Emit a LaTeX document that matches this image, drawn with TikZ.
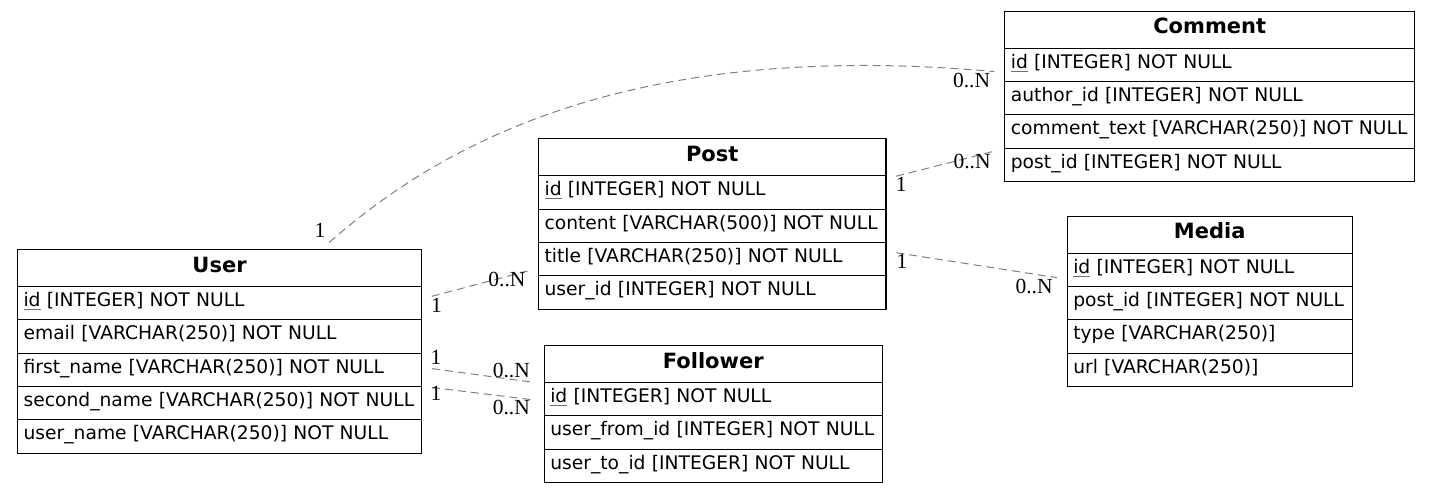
\documentclass[tikz,border=0pt]{standalone}
\usepackage{fontspec}
\setmainfont{DejaVu Sans}
\newfontfamily\lblfont{Liberation Serif}
\usetikzlibrary{calc}

\definecolor{edgegray}{HTML}{808080}
\definecolor{keyline}{HTML}{707070}

% primary key: underlined column name
\newcommand\pkey[1]{\setbox0=\hbox{#1}\rlap{\textcolor{keyline}{\rule[-3.5pt]{\wd0}{1.1pt}}}#1}

\tikzset{
  tblcell/.style={draw=black, line width=1.1pt, rectangle, anchor=north west,
    inner xsep=6pt, inner ysep=0pt},
  tblhead/.style={tblcell, minimum height=37pt, align=center,
    font=\fontsize{21}{21}\selectfont\bfseries, text height=14pt, text depth=5.8pt},
  tblrow/.style={tblcell, minimum height=33.3pt, align=left,
    font=\fontsize{18.7}{18.7}\selectfont, text height=12.5pt, text depth=5.8pt},
  rel/.style={draw=edgegray, line width=1pt, dash pattern=on 8pt off 5pt,
    shorten <=10pt, shorten >=10pt},
  card/.style={font=\lblfont\fontsize{21.5}{21.5}\selectfont, inner sep=0pt, text=black}
}

% table header and table row at a given top-left corner and width
\newcommand\erhead[5]{\pgfmathsetmacro\erw{#4-12}%
  \node[tblhead, minimum width=#4pt, text width=\erw pt] (#1) at (#2,#3) {#5};}
\newcommand\errow[5]{\pgfmathsetmacro\erw{#4-12}%
  \node[tblrow, minimum width=#4pt, text width=\erw pt] (#1) at (#2,#3) {#5};}

\begin{document}
\begin{tikzpicture}[x=1pt, y=-1pt]
\useasboundingbox (0,0) rectangle (1429,493);

% User
\erhead{user}{17}{249}{404}{User}
\errow{user1}{17}{286}{404}{\pkey{id} [INTEGER] NOT NULL}
\errow{user2}{17}{319.3}{404}{email [VARCHAR(250)] NOT NULL}
\errow{user3}{17}{352.6}{404}{first\_name [VARCHAR(250)] NOT NULL}
\errow{user4}{17}{385.9}{404}{second\_name [VARCHAR(250)] NOT NULL}
\errow{user5}{17}{419.2}{404}{user\_name [VARCHAR(250)] NOT NULL}

% Post
\erhead{post}{538}{138.3}{347.4}{Post}
\errow{post1}{538}{175.3}{347.4}{\pkey{id} [INTEGER] NOT NULL}
\errow{post2}{538}{208.6}{347.4}{content [VARCHAR(500)] NOT NULL}
\errow{post3}{538}{241.9}{347.4}{title [VARCHAR(250)] NOT NULL}
\errow{post4}{538}{275.2}{347.4}{user\_id [INTEGER] NOT NULL}

% Follower
\erhead{follower}{543.7}{345}{338}{Follower}
\errow{follower1}{543.7}{382}{338}{\pkey{id} [INTEGER] NOT NULL}
\errow{follower2}{543.7}{415.3}{338}{user\_from\_id [INTEGER] NOT NULL}
\errow{follower3}{543.7}{448.6}{338}{user\_to\_id [INTEGER] NOT NULL}

% Comment
\erhead{comment}{1004.3}{10.7}{409.7}{Comment}
\errow{comment1}{1004.3}{47.7}{409.7}{\pkey{id} [INTEGER] NOT NULL}
\errow{comment2}{1004.3}{81}{409.7}{author\_id [INTEGER] NOT NULL}
\errow{comment3}{1004.3}{114.3}{409.7}{comment\_text [VARCHAR(250)] NOT NULL}
\errow{comment4}{1004.3}{147.6}{409.7}{post\_id [INTEGER] NOT NULL}

% Media
\erhead{media}{1066.7}{215.7}{285}{Media}
\errow{media1}{1066.7}{252.7}{285}{\pkey{id} [INTEGER] NOT NULL}
\errow{media2}{1066.7}{286}{285}{post\_id [INTEGER] NOT NULL}
\errow{media3}{1066.7}{319.3}{285}{type [VARCHAR(250)]}
\errow{media4}{1066.7}{352.6}{285}{url [VARCHAR(250)]}

% relationships
\draw[rel] ($(user.north west)!0.752!(user.north east)$)
  .. controls (435,150) and (620,38) ..
  ($(comment1.north west)!0.72!(comment1.south west)$);
\draw[rel] ($(user1.north east)!0.375!(user1.south east)$) --
  ($(post3.north west)!0.766!(post3.south west)$);
\draw[rel] ($(user3.north east)!0.426!(user3.south east)$) --
  ($(follower1.north west)!0.05!(follower1.south west)$);
\draw[rel] ($(user4.north east)!0.01!(user4.south east)$) --
  ($(follower1.north west)!0.556!(follower1.south west)$);
\draw[rel] ($(post1.north east)!0.1!(post1.south east)$) --
  ($(comment4.north west)!0.03!(comment4.south west)$);
\draw[rel] ($(post3.north east)!0.27!(post3.south east)$) --
  ($(media1.north west)!0.77!(media1.south west)$);

% cardinalities
\node[card] (c-uc-1) at (320,230.5) {1};
\node[card] (c-uc-n) at (971.5,80) {0..N};
\node[card] (c-up-1) at (436.6,305) {1};
\node[card] (c-up-n) at (507,279.3) {0..N};
\node[card] (c-uf1-1) at (436,357.5) {1};
\node[card] (c-uf1-n) at (511.3,370.8) {0..N};
\node[card] (c-uf2-1) at (436,393.3) {1};
\node[card] (c-uf2-n) at (511.3,407.5) {0..N};
\node[card] (c-pc-1) at (901.3,184) {1};
\node[card] (c-pc-n) at (972,161) {0..N};
\node[card] (c-pm-1) at (902,261.7) {1};
\node[card] (c-pm-n) at (1034,286.7) {0..N};
\end{tikzpicture}
\end{document}
